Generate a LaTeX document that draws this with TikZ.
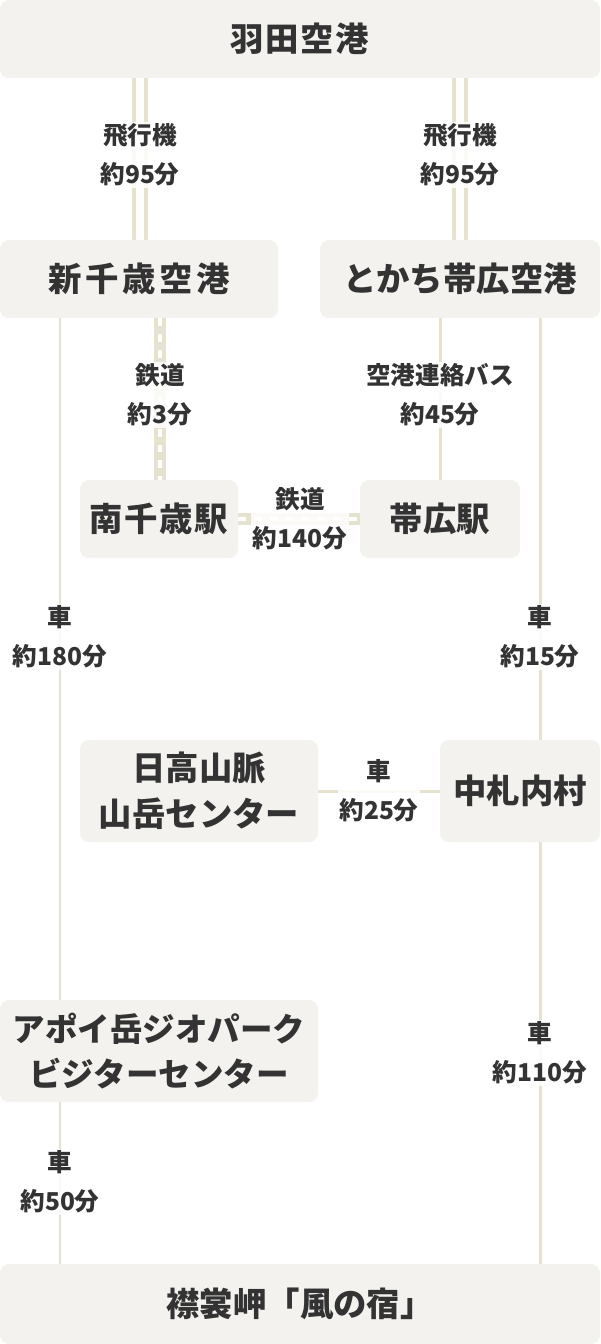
\documentclass[tikz,border=0pt]{standalone}
\usepackage{fontspec}
\setmainfont{Noto Sans CJK JP}
\definecolor{boxfill}{HTML}{F3F2EE}
\definecolor{routeline}{HTML}{E6E2D0}
\definecolor{ink}{HTML}{333333}
\tikzset{
  place/.style = {fill = boxfill, rounded corners = 5pt, text = ink, font = \fontsize{19}{26}\selectfont\bfseries, align = center, inner sep = 0pt},
  howlong/.style = {fill = white, fill opacity = 0.85, text opacity = 1, text = ink, font = \fontsize{14}{22}\selectfont\bfseries, align = center, inner sep = 1pt},
  car/.style = {routeline, line width = 1.7pt},
  plane/.style = {routeline, line width = 2.2pt},
  railbed/.style = {routeline, line width = 6.8pt},
  railgap/.style = {white, line width = 2.2pt, dash pattern = on 4.5pt off 4.5pt}
}
\begin{document}
\begin{tikzpicture}[x = 0.02cm, y = -0.02cm]

	\useasboundingbox (0, 0) rectangle (600, 1344);

	% Routes (drawn first, under the boxes)

	\coordinate (hnd-l) at (140, 78);   \coordinate (cts-t) at (140, 240);
	\coordinate (hnd-r) at (460, 78);   \coordinate (obo-t) at (460, 240);
	\foreach \a/\b in {hnd-l/cts-t, hnd-r/obo-t} {
		\draw [plane] ([xshift = -3.4pt] \a) -- ([xshift = -3.4pt] \b);
		\draw [plane] ([xshift = 3.4pt] \a) -- ([xshift = 3.4pt] \b);
	}

	\coordinate (cts-b) at (160, 318);  \coordinate (mch-t) at (160, 480);
	\coordinate (mch-r) at (238, 519);  \coordinate (obs-l) at (360, 519);
	\foreach \a/\b in {cts-b/mch-t, mch-r/obs-l} {
		\draw [railbed] (\a) -- (\b);
		\draw [railgap] (\a) -- (\b);
	}

	\coordinate (bus-t) at (440, 318);  \coordinate (obs-t) at (440, 480);
	\draw [car] (bus-t) -- (obs-t);

	\coordinate (cts-bl) at (60, 318);  \coordinate (apoi-t) at (60, 1000);
	\coordinate (apoi-b) at (60, 1102); \coordinate (erimo-l) at (60, 1264);
	\coordinate (obo-br) at (540, 318); \coordinate (nak-t) at (540, 740);
	\coordinate (nak-b) at (540, 842);  \coordinate (erimo-r) at (540, 1264);
	\coordinate (hid-r) at (318, 791);  \coordinate (nak-l) at (440, 791);
	\foreach \a/\b in {cts-bl/apoi-t, apoi-b/erimo-l, obo-br/nak-t, nak-b/erimo-r, hid-r/nak-l}
		\draw [car] (\a) -- (\b);

	% Places

	\node [place, minimum width = 600 * 0.02cm, minimum height = 78 * 0.02cm] (haneda) at (300, 39) {羽\kern1pt田\kern1pt空\kern1pt港};
	\node [place, minimum width = 278 * 0.02cm, minimum height = 78 * 0.02cm] (chitose) at (139, 279) {新\kern2pt千\kern2pt歳\kern2pt空\kern2pt港};
	\node [place, minimum width = 280 * 0.02cm, minimum height = 78 * 0.02cm] (tokachi) at (460, 279) {とかち帯広空港};
	\node [place, minimum width = 158 * 0.02cm, minimum height = 78 * 0.02cm] (minami) at (159, 519) {南\kern1pt千\kern1pt歳\kern1pt駅};
	\node [place, minimum width = 160 * 0.02cm, minimum height = 78 * 0.02cm] (obihiro) at (440, 519) {帯広駅};
	\node [place, minimum width = 238 * 0.02cm, minimum height = 102 * 0.02cm] (hidaka) at (199, 791) {日高山脈\\山岳センター};
	\node [place, minimum width = 160 * 0.02cm, minimum height = 102 * 0.02cm] (nakasatsunai) at (520, 791) {中札内村};
	\node [place, minimum width = 318 * 0.02cm, minimum height = 102 * 0.02cm, font = \fontsize{18.5}{26}\selectfont\bfseries] (apoi) at (159, 1051) {アポイ岳ジオパーク\\ビジターセンター};
	\node [place, minimum width = 600 * 0.02cm, minimum height = 80 * 0.02cm] (erimo) at (300, 1304) {襟裳岬「風の宿」};

	% Travel times

	\node [howlong] (t-plane-l) at (140, 155) {飛行機\\約95分};
	\node [howlong] (t-plane-r) at (460, 155) {飛行機\\約95分};
	\node [howlong] (t-rail-v) at (160, 395) {鉄道\\約3分};
	\node [howlong] (t-bus) at (440, 395) {空港連絡バス\\約45分};
	\node [howlong] (t-rail-h) at (300, 519) {鉄道\\約140分};
	\node [howlong] (t-car-l) at (60, 637) {車\\約180分};
	\node [howlong] (t-car-r) at (540, 637) {車\\約15分};
	\node [howlong] (t-car-h) at (379, 791) {車\\約25分};
	\node [howlong] (t-car-r2) at (540, 1053) {車\\約110分};
	\node [howlong] (t-car-l2) at (60, 1182) {車\\約50分};

\end{tikzpicture}
\end{document}
